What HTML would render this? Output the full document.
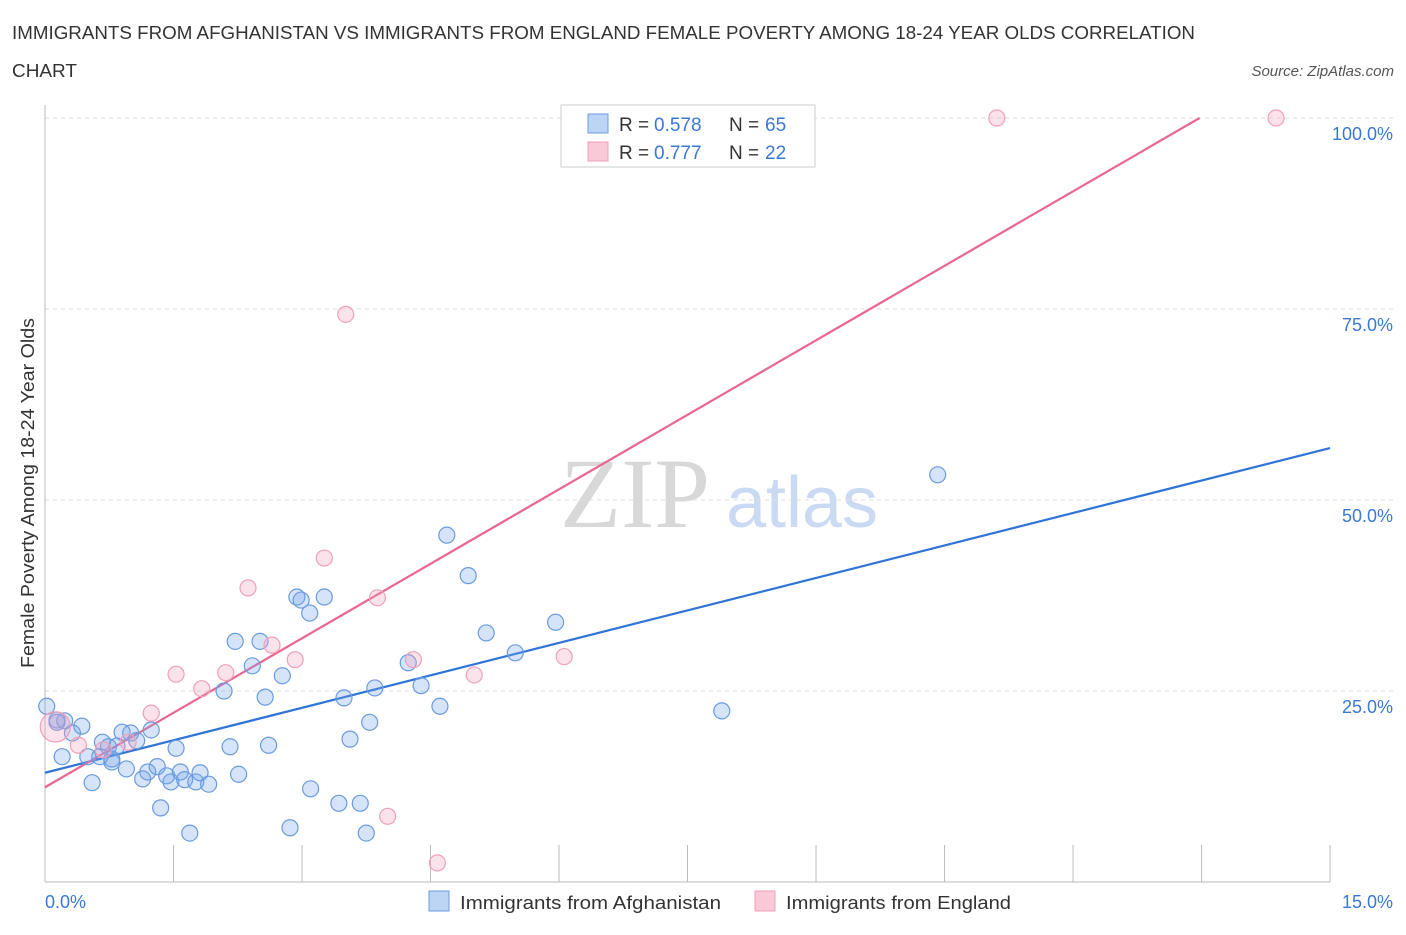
<!DOCTYPE html>
<html><head><meta charset="utf-8"><style>
body{margin:0;background:#fff;font-family:"Liberation Sans",sans-serif;}
</style></head><body>
<svg id="chart" width="1406" height="930" xmlns="http://www.w3.org/2000/svg" font-family="Liberation Sans, sans-serif">
<text x="12" y="39" font-size="18" fill="#333" textLength="1183" lengthAdjust="spacingAndGlyphs">IMMIGRANTS FROM AFGHANISTAN VS IMMIGRANTS FROM ENGLAND FEMALE POVERTY AMONG 18-24 YEAR OLDS CORRELATION</text>
<text x="12" y="77" font-size="18" fill="#333" textLength="65" lengthAdjust="spacingAndGlyphs">CHART</text>
<text x="1394" y="76" font-size="15" fill="#555" font-style="italic" text-anchor="end">Source: ZipAtlas.com</text>
<text transform="translate(34,493) rotate(-90)" font-size="18" fill="#333" text-anchor="middle" textLength="350" lengthAdjust="spacingAndGlyphs">Female Poverty Among 18-24 Year Olds</text>
<g>
<text x="635" y="527" font-size="100" fill="#d8d8d8" font-family="Liberation Serif, serif" text-anchor="middle">ZIP</text>
<text x="802" y="527" font-size="72" fill="#c9daf2" text-anchor="middle">atlas</text>
</g>
<g id="grid"></g><g id="axes"></g><g id="lines"></g><g id="points"></g>
<g>
<rect x="561" y="105" width="254" height="62" fill="#fff" stroke="#ccc"/>
<rect x="588" y="114" width="20" height="19" fill="#bcd5f5" stroke="#6a9be0"/>
<text x="619" y="131" font-size="19" fill="#333">R =</text>
<text x="654" y="131" font-size="19" fill="#3a78d8">0.578</text>
<text x="729" y="131" font-size="19" fill="#333">N =</text>
<text x="765" y="131" font-size="19" fill="#3a78d8">65</text>
<rect x="588" y="142" width="20" height="19" fill="#f9c9d7" stroke="#f0a0b8"/>
<text x="619" y="159" font-size="19" fill="#333">R =</text>
<text x="654" y="159" font-size="19" fill="#3a78d8">0.777</text>
<text x="729" y="159" font-size="19" fill="#333">N =</text>
<text x="765" y="159" font-size="19" fill="#3a78d8">22</text>
</g>
<g>
<rect x="429" y="891" width="20" height="20" fill="#bcd5f5" stroke="#6a9be0"/>
<text x="460" y="909" font-size="18" fill="#333" textLength="261" lengthAdjust="spacingAndGlyphs">Immigrants from Afghanistan</text>
<rect x="755" y="891" width="20" height="20" fill="#f9c9d7" stroke="#f0a0b8"/>
<text x="786" y="909" font-size="18" fill="#333" textLength="225" lengthAdjust="spacingAndGlyphs">Immigrants from England</text>
</g>
</svg>
<script>
const blueX=[0.02,0.14,0.23,0.32,0.43,0.20,0.55,0.67,0.74,0.78,0.84,0.90,0.95,1.00,1.07,1.14,1.20,1.24,1.31,1.35,1.42,1.47,1.53,1.58,1.63,1.69,1.76,1.81,1.91,2.09,2.16,2.22,2.26,2.42,2.51,2.57,2.61,2.77,2.86,2.94,2.99,3.09,3.10,3.26,3.43,3.49,3.56,3.68,3.75,3.79,3.85,4.24,4.39,4.61,4.69,4.94,5.15,5.49,5.96,7.90,10.42,0.78,0.50,0.64,0.14];
const blueY=[23.0,21.2,21.1,19.5,20.4,16.4,13.0,18.3,17.7,15.7,17.8,19.6,14.8,19.5,18.5,13.5,14.4,19.9,15.1,9.7,13.9,13.1,17.5,14.4,13.4,6.4,13.1,14.3,12.8,25.0,17.7,31.5,14.1,28.3,31.5,24.2,17.9,27.0,7.1,37.3,36.9,35.2,12.2,37.3,10.3,24.1,18.7,10.3,6.4,20.9,25.4,28.7,25.7,23.0,45.4,40.1,32.6,30.0,34.0,22.4,53.3,16.1,16.4,16.4,20.9];
const pinkX=[0.12,0.39,0.68,0.97,1.24,1.53,1.83,2.11,2.37,2.65,2.92,3.26,3.51,3.88,4.00,4.30,4.58,5.01,6.06,11.11,14.37,7.53];
const pinkY=[20.3,17.9,17.3,18.3,22.1,27.2,25.3,27.4,38.5,31.0,29.1,42.4,74.3,37.2,8.6,29.1,2.5,27.1,29.5,100,100,100];
const blueLine=[14.3,56.8];
const pinkLine=[12.4,6.5];
const yTicks=[25,50,75,100];
const xTickLabels=["0.0%","15.0%"];
const NS="http://www.w3.org/2000/svg";
const sx=v=>45+v*85.67, sy=v=>882-v*7.64;
function mk(tag,attrs,parent){const e=document.createElementNS(NS,tag);for(const k in attrs)e.setAttribute(k,attrs[k]);document.getElementById(parent).appendChild(e);return e;}
yTicks.forEach(t=>{
 const l=mk('line',{x1:45,x2:1394,y1:sy(t),y2:sy(t),stroke:'#ddd','stroke-dasharray':'4,4'},'grid');
 
 
 const tx=mk('text',{x:1393,y:sy(t)+22,'font-size':18,fill:'#3a78d8','text-anchor':'end'},'axes');
 tx.textContent=t.toFixed(1)+'%';
 
 
});
const ax=mk('line',{x1:45,x2:1330,y1:882,y2:882,stroke:'#bbb'},'axes');


const ay=mk('line',{x1:45,x2:45,y1:105,y2:882,stroke:'#bbb'},'axes');


for(let i=1;i<=10;i++){const t=mk('line',{x1:sx(i*1.5),x2:sx(i*1.5),y1:845,y2:882,stroke:'#bbb'},'axes');
 
 }
const xl0=mk('text',{x:45,y:908,'font-size':18,fill:'#3a78d8'},'axes');xl0.textContent=xTickLabels[0];


const xl1=mk('text',{x:1393,y:908,'font-size':18,fill:'#3a78d8','text-anchor':'end'},'axes');xl1.textContent=xTickLabels[1];


const bl=mk('line',{x1:sx(0),y1:sy(blueLine[0]),x2:sx(15),y2:sy(blueLine[1]),stroke:'#2f74d6','stroke-width':2.2},'lines');


const xe=(100-pinkLine[0])/pinkLine[1];
const pl=mk('line',{x1:sx(0),y1:sy(pinkLine[0]),x2:sx(xe),y2:sy(100),stroke:'#e8668f','stroke-width':2.2},'lines');


blueX.forEach((x,i)=>{const c=mk('circle',{cx:sx(x),cy:sy(blueY[i]),r:8,fill:'rgba(120,165,235,0.3)',stroke:'#6a9be0','stroke-width':1.2},'points');
 
 });
pinkX.forEach((x,i)=>{const c=mk('circle',{cx:sx(x),cy:sy(pinkY[i]),r:i===0?15:8,fill:'rgba(245,160,190,0.3)',stroke:'#f0a0b8','stroke-width':1.2},'points');
 
 });
</script>
</body></html>
